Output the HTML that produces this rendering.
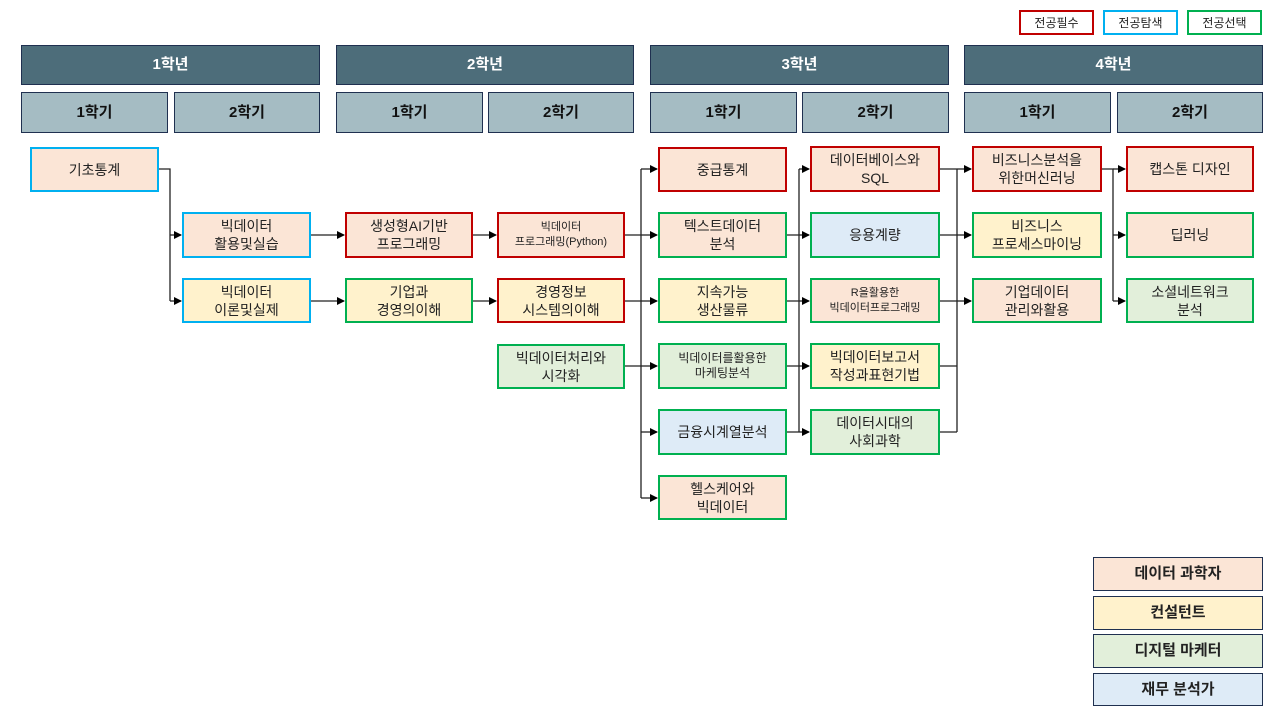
<!DOCTYPE html>
<html><head><meta charset="utf-8"><style>
*{margin:0;padding:0;box-sizing:border-box}
body{width:1280px;height:720px;background:#fff;position:relative;overflow:hidden;font-family:"Liberation Sans","Noto Sans CJK KR",sans-serif}
.b{position:absolute;display:flex;align-items:center;justify-content:center;text-align:center;color:#222;font-size:14px;line-height:18px;border:2px solid}
.y{background:#4d6d7a;color:#fff;font-weight:bold;font-size:15px;border:1px solid #1f3050}
.s{background:#a5bcc3;color:#111;font-weight:bold;font-size:15px;border:1px solid #1f3050}
.R{border-color:#c00000}.B{border-color:#00b0f0}.G{border-color:#00b050}
.p{background:#fbe5d6}.w{background:#fff2cc}.g{background:#e2efda}.u{background:#deebf7}
.L{border:1px solid #1f3050;font-weight:bold;font-size:15px}
.sm{font-size:11px;line-height:15px}
.t{background:#fff;font-size:12px}
</style></head><body>
<div class="b t R" style="left:1019px;top:10px;width:75px;height:25px">전공필수</div>
<div class="b t B" style="left:1103px;top:10px;width:75px;height:25px">전공탐색</div>
<div class="b t G" style="left:1187px;top:10px;width:75px;height:25px">전공선택</div>

<div class="b y" style="left:21px;top:45px;width:299px;height:40px">1학년</div>
<div class="b y" style="left:336px;top:45px;width:298px;height:40px">2학년</div>
<div class="b y" style="left:650px;top:45px;width:299px;height:40px">3학년</div>
<div class="b y" style="left:964px;top:45px;width:299px;height:40px">4학년</div>

<div class="b s" style="left:21px;top:92px;width:147px;height:41px">1학기</div>
<div class="b s" style="left:174px;top:92px;width:146px;height:41px">2학기</div>
<div class="b s" style="left:336px;top:92px;width:147px;height:41px">1학기</div>
<div class="b s" style="left:488px;top:92px;width:146px;height:41px">2학기</div>
<div class="b s" style="left:650px;top:92px;width:147px;height:41px">1학기</div>
<div class="b s" style="left:802px;top:92px;width:147px;height:41px">2학기</div>
<div class="b s" style="left:964px;top:92px;width:147px;height:41px">1학기</div>
<div class="b s" style="left:1117px;top:92px;width:146px;height:41px">2학기</div>

<svg style="position:absolute;left:0;top:0" width="1280" height="720">
<defs><marker id="a" markerWidth="8" markerHeight="8" refX="7" refY="4" orient="auto" markerUnits="userSpaceOnUse"><path d="M0,0 L8,4 L0,8z" fill="#000"/></marker></defs>
<g stroke="#222" stroke-width="1.3" fill="none">
<path d="M158,169 H170 V301"/>
<path d="M170,235 H181" marker-end="url(#a)"/><path d="M170,301 H181" marker-end="url(#a)"/>
<path d="M310,235 H344" marker-end="url(#a)"/><path d="M310,301 H344" marker-end="url(#a)"/>
<path d="M472,235 H496" marker-end="url(#a)"/><path d="M472,301 H496" marker-end="url(#a)"/>
<path d="M624,235 H641 M624,301 H641 M624,366 H641 M641,169 V498"/>
<path d="M641,169 H657" marker-end="url(#a)"/><path d="M641,235 H657" marker-end="url(#a)"/><path d="M641,301 H657" marker-end="url(#a)"/><path d="M641,366 H657" marker-end="url(#a)"/><path d="M641,432 H657" marker-end="url(#a)"/><path d="M641,498 H657" marker-end="url(#a)"/>
<path d="M786,235 H799 M786,301 H799 M786,366 H799 M786,432 H799 M799,169 V432"/>
<path d="M799,169 H809" marker-end="url(#a)"/><path d="M799,235 H809" marker-end="url(#a)"/><path d="M799,301 H809" marker-end="url(#a)"/><path d="M799,366 H809" marker-end="url(#a)"/><path d="M799,432 H809" marker-end="url(#a)"/>
<path d="M939,169 H957 M939,235 H957 M939,301 H957 M939,366 H957 M939,432 H957 M957,169 V432"/>
<path d="M957,169 H971" marker-end="url(#a)"/><path d="M957,235 H971" marker-end="url(#a)"/><path d="M957,301 H971" marker-end="url(#a)"/>
<path d="M1101,169 H1113 V301"/>
<path d="M1113,169 H1125" marker-end="url(#a)"/><path d="M1113,235 H1125" marker-end="url(#a)"/><path d="M1113,301 H1125" marker-end="url(#a)"/>
</g></svg>

<div class="b B p" style="left:30px;top:147px;width:129px;height:45px">기초통계</div>
<div class="b B p" style="left:182px;top:212px;width:129px;height:46px">빅데이터<br>활용및실습</div>
<div class="b B w" style="left:182px;top:278px;width:129px;height:45px">빅데이터<br>이론및실제</div>
<div class="b R p" style="left:345px;top:212px;width:128px;height:46px">생성형AI기반<br>프로그래밍</div>
<div class="b G w" style="left:345px;top:278px;width:128px;height:45px">기업과<br>경영의이해</div>
<div class="b R p sm" style="left:497px;top:212px;width:128px;height:46px">빅데이터<br>프로그래밍(Python)</div>
<div class="b R w" style="left:497px;top:278px;width:128px;height:45px">경영정보<br>시스템의이해</div>
<div class="b G g" style="left:497px;top:344px;width:128px;height:45px">빅데이터처리와<br>시각화</div>

<div class="b R p" style="left:658px;top:147px;width:129px;height:45px">중급통계</div>
<div class="b G p" style="left:658px;top:212px;width:129px;height:46px">텍스트데이터<br>분석</div>
<div class="b G w" style="left:658px;top:278px;width:129px;height:45px">지속가능<br>생산물류</div>
<div class="b G g sm" style="left:658px;top:343px;width:129px;height:46px;font-size:12px">빅데이터를활용한<br>마케팅분석</div>
<div class="b G u" style="left:658px;top:409px;width:129px;height:46px">금융시계열분석</div>
<div class="b G p" style="left:658px;top:475px;width:129px;height:45px">헬스케어와<br>빅데이터</div>

<div class="b R p" style="left:810px;top:146px;width:130px;height:46px">데이터베이스와<br>SQL</div>
<div class="b G u" style="left:810px;top:212px;width:130px;height:46px">응용계량</div>
<div class="b G p sm" style="left:810px;top:278px;width:130px;height:45px">R을활용한<br>빅데이터프로그래밍</div>
<div class="b G w" style="left:810px;top:343px;width:130px;height:46px">빅데이터보고서<br>작성과표현기법</div>
<div class="b G g" style="left:810px;top:409px;width:130px;height:46px">데이터시대의<br>사회과학</div>

<div class="b R p" style="left:972px;top:146px;width:130px;height:46px">비즈니스분석을<br>위한머신러닝</div>
<div class="b G w" style="left:972px;top:212px;width:130px;height:46px">비즈니스<br>프로세스마이닝</div>
<div class="b G p" style="left:972px;top:278px;width:130px;height:45px">기업데이터<br>관리와활용</div>

<div class="b R p" style="left:1126px;top:146px;width:128px;height:46px">캡스톤 디자인</div>
<div class="b G p" style="left:1126px;top:212px;width:128px;height:46px">딥러닝</div>
<div class="b G g" style="left:1126px;top:278px;width:128px;height:45px">소셜네트워크<br>분석</div>

<div class="b L p" style="left:1093px;top:557px;width:170px;height:34px">데이터 과학자</div>
<div class="b L w" style="left:1093px;top:596px;width:170px;height:34px">컨설턴트</div>
<div class="b L g" style="left:1093px;top:634px;width:170px;height:34px">디지털 마케터</div>
<div class="b L u" style="left:1093px;top:673px;width:170px;height:33px">재무 분석가</div>
</body></html>
